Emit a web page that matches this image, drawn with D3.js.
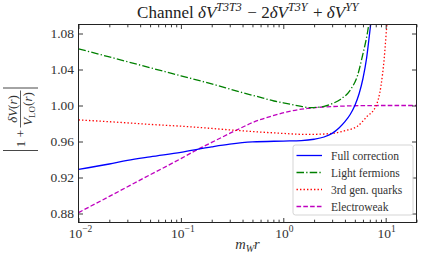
<!DOCTYPE html>
<html>
<head>
<meta charset="utf-8">
<script src="https://cdn.jsdelivr.net/npm/d3@7"></script>
<style>
  body { margin: 0; background: #fff; }
  svg { display: block; font-family: "Liberation Serif", "DejaVu Serif", serif; }
</style>
</head>
<body>
<div id="chart"></div>
<script>
// values
var fullX = [0.01, 0.02, 0.03, 0.05, 0.1, 0.2, 0.3, 0.5, 1.0, 1.5, 2.0, 2.5, 3.0, 3.5, 4.0, 4.5, 5.0, 5.5, 6.0, 6.5, 7.0, 7.4];
var fullY = [0.929, 0.935, 0.939, 0.943, 0.948, 0.954, 0.957, 0.9595, 0.9605, 0.961, 0.9625, 0.965, 0.969, 0.975, 0.982, 0.990, 1.000, 1.013, 1.030, 1.052, 1.082, 1.105];

var lightX = [0.01, 0.02, 0.05, 0.1, 0.2, 0.38, 0.6, 0.81, 1.0, 1.5, 1.86, 2.5, 3.0, 3.64, 4.56, 5.3, 5.93, 6.64, 6.95];
var lightY = [1.063, 1.054, 1.042, 1.033, 1.024, 1.015, 1.009, 1.005, 1.003, 0.999, 0.9976, 0.999, 1.002, 1.007, 1.018, 1.033, 1.055, 1.081, 1.095];

var thirdX = [0.01, 0.02, 0.05, 0.1, 0.2, 0.38, 0.7, 1.0, 1.5, 2.0, 3.0, 4.0, 5.3, 6.6, 8.0, 9.0, 9.65, 10.2, 10.5];
var thirdY = [0.984, 0.982, 0.979, 0.977, 0.9745, 0.972, 0.970, 0.969, 0.968, 0.968, 0.969, 0.972, 0.977, 0.988, 0.999, 1.022, 1.051, 1.085, 1.100];

var ewX = [0.01, 0.02, 0.05, 0.1, 0.134, 0.2, 0.354, 0.5, 0.81, 1.2, 1.72, 3.13, 5.0, 10.0, 20.0];
var ewY = [0.881, 0.899, 0.923, 0.941, 0.949, 0.959, 0.973, 0.981, 0.989, 0.994, 0.9968, 0.9989, 0.9997, 1.0, 1.0];

var seriesNames = ["Full correction", "Light fermions", "3rd gen. quarks", "Electroweak"];
var yTicks = [0.88, 0.92, 0.96, 1.00, 1.04, 1.08];
var xTicks = [0.01, 0.1, 1, 10];
var xTickExp = ["\u22122", "\u22121", "0", "1"];

// params
var width = 422, height = 261;
var plotL = 78.5, plotR = 416.5, plotT = 24.5, plotB = 222.5;

var x = d3.scaleLog().domain([0.01, 20]).range([plotL, plotR]);
var y = d3.scaleLinear().domain([0.87, 1.09]).range([plotB, plotT]);

var svg = d3.select('#chart').append('svg')
  .attr('width', width)
  .attr('height', height);

svg.append('clipPath').attr('id', 'plot-clip')
  .append('rect')
  .attr('x', plotL).attr('y', plotT)
  .attr('width', plotR - plotL).attr('height', plotB - plotT);

var styles = [
  { color: '#0000ff', dash: null },
  { color: '#008000', dash: '7.5,2.2,1.3,2.2' },
  { color: '#ff0000', dash: '1.4,2.1' },
  { color: '#bf00bf', dash: '4.6,2.2' }
];

var series = [
  { xs: fullX, ys: fullY },
  { xs: lightX, ys: lightY },
  { xs: thirdX, ys: thirdY },
  { xs: ewX, ys: ewY }
];

var line = d3.line()
  .x(d => x(d[0]))
  .y(d => y(d[1]))
  .curve(d3.curveMonotoneX);

// curves, drawn bottom-up so blue sits on top like the reference
var order = [3, 2, 1, 0];
svg.append('g')
  .attr('clip-path', 'url(#plot-clip)')
  .selectAll('path')
  .data(order)
  .enter()
  .append('path')
  .attr('fill', 'none')
  .attr('stroke', i => styles[i].color)
  .attr('stroke-width', 1.3)
  .attr('stroke-dasharray', i => styles[i].dash)
  .attr('d', i => line(d3.zip(series[i].xs, series[i].ys)));

// ticks (pointing inwards, on all four sides)
var minorX = x.ticks().filter(v => xTicks.indexOf(v) < 0);
var majorLen = 4.5, minorLen = 2.8;
var tickColor = '#222';

svg.append('g').attr('transform', `translate(0,${plotB})`)
  .call(d3.axisBottom(x).tickValues(xTicks).tickSizeInner(-majorLen).tickSizeOuter(0).tickFormat(''));
svg.append('g').attr('transform', `translate(0,${plotB})`)
  .call(d3.axisBottom(x).tickValues(minorX).tickSizeInner(-minorLen).tickSizeOuter(0).tickFormat(''));
svg.append('g').attr('transform', `translate(0,${plotT})`)
  .call(d3.axisTop(x).tickValues(xTicks).tickSizeInner(-majorLen).tickSizeOuter(0).tickFormat(''));
svg.append('g').attr('transform', `translate(0,${plotT})`)
  .call(d3.axisTop(x).tickValues(minorX).tickSizeInner(-minorLen).tickSizeOuter(0).tickFormat(''));
svg.append('g').attr('transform', `translate(${plotL},0)`)
  .call(d3.axisLeft(y).tickValues(yTicks).tickSizeInner(-majorLen).tickSizeOuter(0).tickFormat(''));
svg.append('g').attr('transform', `translate(${plotR},0)`)
  .call(d3.axisRight(y).tickValues(yTicks).tickSizeInner(-majorLen).tickSizeOuter(0).tickFormat(''));

svg.selectAll('.domain').remove();
svg.selectAll('.tick line').attr('stroke', tickColor).attr('stroke-width', 0.9);

// frame
svg.append('rect')
  .attr('x', plotL).attr('y', plotT)
  .attr('width', plotR - plotL).attr('height', plotB - plotT)
  .attr('fill', 'none')
  .attr('stroke', tickColor)
  .attr('stroke-width', 1);

// y tick labels
svg.append('g').selectAll('text')
  .data(yTicks)
  .enter()
  .append('text')
  .attr('x', plotL - 4.5)
  .attr('y', d => y(d) + 4.8)
  .attr('text-anchor', 'end')
  .attr('font-size', 13.5)
  .attr('fill', '#333')
  .text(d => d.toFixed(2));

// x tick labels as 10^n
var xl = svg.append('g').selectAll('text')
  .data(xTicks)
  .enter()
  .append('text')
  .attr('x', (d, i) => x(d) + (xTickExp[i].length > 1 ? 2 : 1))
  .attr('y', 238)
  .attr('text-anchor', 'middle')
  .attr('font-size', 13.5)
  .attr('fill', '#333');
xl.append('tspan').text('10');
xl.append('tspan')
  .attr('dy', -6)
  .attr('font-size', 9.5)
  .text((d, i) => xTickExp[i]);

// x label m_W r
var xlab = svg.append('text')
  .attr('x', (plotL + plotR) / 2)
  .attr('y', 249)
  .attr('text-anchor', 'middle')
  .attr('font-size', 14.5)
  .attr('font-style', 'italic')
  .attr('fill', '#333');
xlab.append('tspan').text('m');
xlab.append('tspan').attr('dy', 3).attr('font-size', 10).text('W');
xlab.append('tspan').attr('dy', -3).text('r');

// title
var title = svg.append('text')
  .attr('x', (plotL + plotR) / 2 + 1)
  .attr('y', 18)
  .attr('text-anchor', 'middle')
  .attr('font-size', 17)
  .attr('fill', '#222');
function sup(t, s) {
  t.append('tspan').attr('dy', -7).attr('font-size', 12).attr('font-style', 'italic').text(s);
  t.append('tspan').attr('dy', 7).text('\u200a');
}
title.append('tspan').text('Channel ');
title.append('tspan').attr('font-style', 'italic').text('\u03b4V');
sup(title, 'T3T3');
title.append('tspan').text(' \u2212 2');
title.append('tspan').attr('font-style', 'italic').text('\u03b4V');
sup(title, 'T3Y');
title.append('tspan').text(' + ');
title.append('tspan').attr('font-style', 'italic').text('\u03b4V');
sup(title, 'YY');

// y label |1 + dV(r)/V_LO(r)|, rotated
var yl = svg.append('g').attr('transform', 'translate(20,119.5) rotate(-90)');
var labColor = '#333';
yl.append('line').attr('x1', -31).attr('x2', -31).attr('y1', -17).attr('y2', 18)
  .attr('stroke', labColor).attr('stroke-width', 0.9);
yl.append('line').attr('x1', 31.5).attr('x2', 31.5).attr('y1', -17).attr('y2', 18)
  .attr('stroke', labColor).attr('stroke-width', 0.9);
yl.append('text').attr('x', -28).attr('y', 4.5).attr('font-size', 13.5).attr('fill', labColor).text('1 +');
yl.append('line').attr('x1', -8).attr('x2', 29).attr('y1', 0.5).attr('y2', 0.5)
  .attr('stroke', labColor).attr('stroke-width', 0.8);
var num = yl.append('text').attr('x', 10.5).attr('y', -3.5).attr('text-anchor', 'middle')
  .attr('font-size', 13).attr('fill', labColor);
num.append('tspan').attr('font-style', 'italic').text('\u03b4V');
num.append('tspan').text('(');
num.append('tspan').attr('font-style', 'italic').text('r');
num.append('tspan').text(')');
var den = yl.append('text').attr('x', 10.5).attr('y', 12).attr('text-anchor', 'middle')
  .attr('font-size', 13).attr('fill', labColor);
den.append('tspan').attr('font-style', 'italic').text('V');
den.append('tspan').attr('dy', 2.5).attr('font-size', 9).text('LO');
den.append('tspan').attr('dy', -2.5).text('(');
den.append('tspan').attr('font-style', 'italic').text('r');
den.append('tspan').text(')');

// legend
var legX = 293, legY = 145, legW = 120, legH = 70, rowH = 17;
var legend = svg.append('g');
legend.append('rect')
  .attr('x', legX).attr('y', legY)
  .attr('width', legW).attr('height', legH)
  .attr('rx', 2.5)
  .attr('fill', 'rgba(255,255,255,0.85)')
  .attr('stroke', '#d0d0d0')
  .attr('stroke-width', 0.9);
var rows = legend.selectAll('g.row')
  .data(seriesNames)
  .enter()
  .append('g')
  .attr('class', 'row')
  .attr('transform', (d, i) => `translate(${legX}, ${legY + 10.5 + i * rowH})`);
rows.append('line')
  .attr('x1', 3.5).attr('x2', 29)
  .attr('y1', 0).attr('y2', 0)
  .attr('stroke', (d, i) => styles[i].color)
  .attr('stroke-width', 1.3)
  .attr('stroke-dasharray', (d, i) => styles[i].dash);
rows.append('text')
  .attr('x', 38)
  .attr('y', 4)
  .attr('font-size', 11.5)
  .attr('fill', '#333')
  .text(d => d);
</script>
</body>
</html>
